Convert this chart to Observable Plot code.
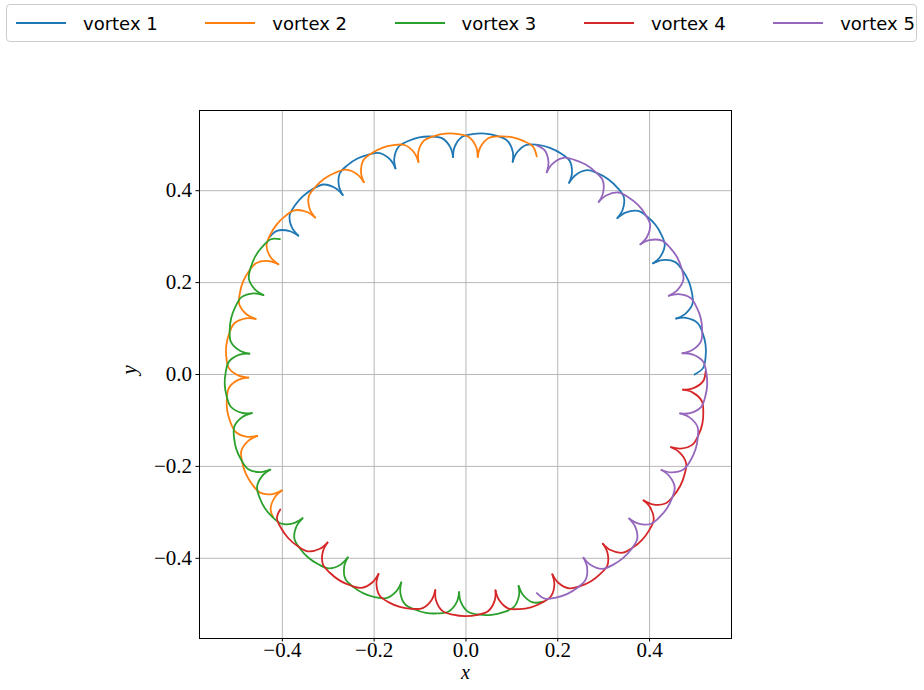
<!DOCTYPE html>
<html>
<head>
<meta charset="utf-8">
<script src="https://cdn.jsdelivr.net/npm/d3@7"></script>
<script src="https://cdn.jsdelivr.net/npm/@observablehq/plot@0.6"></script>
<style>
  html, body { margin: 0; padding: 0; background: #fff; }
  #wrap { position: relative; width: 924px; height: 690px; }
  #legend { position: absolute; left: 6px; top: 4px; width: 911px; height: 38px;
            border: 1px solid #cccccc; border-radius: 4px; background: #fff; box-sizing: border-box;
            font-family: "DejaVu Sans", sans-serif; font-size: 18px; color: #000; }
  .item { position: absolute; top: 0; height: 36px; display: flex; align-items: center; }
  .swatch { width: 50px; height: 2px; margin-right: 17px; }
  #chart { position: absolute; left: 0; top: 50px; }
</style>
</head>
<body>
<div id="wrap">
  <div id="legend"></div>
  <div id="chart"></div>
</div>
<script>
// Series names and colours
const seriesNames = ["vortex 1", "vortex 2", "vortex 3", "vortex 4", "vortex 5"];
const seriesColors = ["#1f77b4", "#ff7f0e", "#2ca02c", "#d62728", "#9467bd"];
const xTicks = [-0.4, -0.2, 0.0, 0.2, 0.4];
const yTicks = [-0.4, -0.2, 0.0, 0.2, 0.4];

// Trajectory points as [angle in degrees, radius]
const vortex1 = [
[0,.498],[1.6,.517],[4.2,.5235],[7.05,.526],[9.9,.5235],[12.5,.517],[14.4,.495],[14.9,.474],
[15.4,.495],[17.3,.517],[19.9,.5235],[22.8,.526],[25.7,.5235],[28.3,.517],[30.2,.495],[30.7,.474],
[31.2,.495],[33.1,.517],[35.7,.5235],[38.3,.526],[40.9,.5235],[43.5,.517],[45.4,.495],[45.9,.474],
[46.4,.495],[48.3,.517],[50.9,.5235],[53.8,.526],[56.7,.5235],[59.3,.517],[61.2,.495],[61.7,.474],
[62.2,.495],[64.1,.517],[66.7,.5235],[69.65,.526],[72.6,.5235],[75.2,.517],[77.1,.495],[77.6,.474],
[78.1,.495],[80.0,.517],[82.6,.5235],[85.5,.526],[88.4,.5235],[91.0,.517],[92.9,.495],[93.4,.474],
[93.9,.495],[95.8,.517],[98.4,.5235],[101.15,.526],[103.9,.5235],[106.5,.517],[108.4,.495],[108.9,.474],
[109.4,.495],[111.3,.517],[113.9,.5235],[116.7,.526],[119.5,.5235],[122.1,.517],[124.0,.495],[124.5,.474],
[125.0,.495],[126.9,.517],[129.5,.5235],[132.45,.526],[135.4,.5235],[138.0,.517],[139.9,.495],[140.4,.474],
[140.9,.495],[142.8,.517],[145.0,.522]
];
const vortex2 = [
[72,.499],[73.6,.517],[76.2,.5235],[79.05,.526],[81.9,.5235],[84.5,.517],[86.4,.495],[86.9,.474],
[87.4,.495],[89.3,.517],[91.9,.5235],[94.75,.526],[97.6,.5235],[100.2,.517],[102.1,.495],[102.6,.474],
[103.1,.495],[105.0,.517],[107.6,.5235],[110.3,.526],[113.0,.5235],[115.6,.517],[117.5,.495],[118.0,.474],
[118.5,.495],[120.4,.517],[123.0,.5235],[125.95,.526],[128.9,.5235],[131.5,.517],[133.4,.495],[133.9,.474],
[134.4,.495],[136.3,.517],[138.9,.5235],[141.75,.526],[144.6,.5235],[147.2,.517],[149.1,.495],[149.6,.474],
[150.1,.495],[152.0,.517],[154.6,.5235],[157.4,.526],[160.2,.5235],[162.8,.517],[164.7,.495],[165.2,.474],
[165.7,.495],[167.6,.517],[170.2,.5235],[173.0,.526],[175.8,.5235],[178.4,.517],[180.3,.495],[180.8,.474],
[181.3,.495],[183.2,.517],[185.8,.5235],[188.6,.526],[191.4,.5235],[194.0,.517],[195.9,.495],[196.4,.474],
[196.9,.495],[198.8,.517],[201.4,.5235],[204.3,.526],[207.2,.5235],[209.8,.517],[211.7,.495],[212.2,.474],
[212.7,.495],[214.6,.517],[216.4,.522]
];
const vortex3 = [
[144,.501],[145.3,.517],[147.9,.5235],[150.75,.526],[153.6,.5235],[156.2,.517],[158.1,.495],[158.6,.474],
[159.1,.495],[161.0,.517],[163.6,.5235],[166.55,.526],[169.5,.5235],[172.1,.517],[174.0,.495],[174.5,.474],
[175.0,.495],[176.9,.517],[179.5,.5235],[182.35,.526],[185.2,.5235],[187.8,.517],[189.7,.495],[190.2,.474],
[190.7,.495],[192.6,.517],[195.2,.5235],[198.05,.526],[200.9,.5235],[203.5,.517],[205.4,.495],[205.9,.474],
[206.4,.495],[208.3,.517],[210.9,.5235],[213.6,.526],[216.3,.5235],[218.9,.517],[220.8,.495],[221.3,.474],
[221.8,.495],[223.7,.517],[226.3,.5235],[229.2,.526],[232.1,.5235],[234.7,.517],[236.6,.495],[237.1,.474],
[237.6,.495],[239.5,.517],[242.1,.5235],[244.9,.526],[247.7,.5235],[250.3,.517],[252.2,.495],[252.7,.474],
[253.2,.495],[255.1,.517],[257.7,.5235],[260.45,.526],[263.2,.5235],[265.8,.517],[267.7,.495],[268.2,.474],
[268.7,.495],[270.6,.517],[273.2,.5235],[276.1,.526],[279.0,.5235],[281.6,.517],[283.5,.495],[284.0,.474],
[284.5,.495],[286.4,.517],[288.8,.522]
];
const vortex4 = [
[216,.5],[217.2,.517],[219.8,.5235],[222.65,.526],[225.5,.5235],[228.1,.517],[230.0,.495],[230.5,.474],
[231.0,.495],[232.9,.517],[235.5,.5235],[238.4,.526],[241.3,.5235],[243.9,.517],[245.8,.495],[246.3,.474],
[246.8,.495],[248.7,.517],[251.3,.5235],[254.1,.526],[256.9,.5235],[259.5,.517],[261.4,.495],[261.9,.474],
[262.4,.495],[264.3,.517],[266.9,.5235],[269.85,.526],[272.8,.5235],[275.4,.517],[277.3,.495],[277.8,.474],
[278.3,.495],[280.2,.517],[282.8,.5235],[285.6,.526],[288.4,.5235],[291.0,.517],[292.9,.495],[293.4,.474],
[293.9,.495],[295.8,.517],[298.4,.5235],[301.2,.526],[304.0,.5235],[306.6,.517],[308.5,.495],[309.0,.474],
[309.5,.495],[311.4,.517],[314.0,.5235],[316.85,.526],[319.7,.5235],[322.3,.517],[324.2,.495],[324.7,.474],
[325.2,.495],[327.1,.517],[329.7,.5235],[332.6,.526],[335.5,.5235],[338.1,.517],[340.0,.495],[340.5,.474],
[341.0,.495],[342.9,.517],[345.5,.5235],[348.25,.526],[351.0,.5235],[353.6,.517],[355.5,.495],[356.0,.474],
[356.5,.495],[358.4,.517],[360.7,.522]
];
const vortex5 = [
[288,.5],[289.4,.517],[292.0,.5235],[294.85,.526],[297.7,.5235],[300.3,.517],[302.2,.495],[302.7,.474],
[303.2,.495],[305.1,.517],[307.7,.5235],[310.65,.526],[313.6,.5235],[316.2,.517],[318.1,.495],[318.6,.474],
[319.1,.495],[321.0,.517],[323.6,.5235],[326.3,.526],[329.0,.5235],[331.6,.517],[333.5,.495],[334.0,.474],
[334.5,.495],[336.4,.517],[339.0,.5235],[341.85,.526],[344.7,.5235],[347.3,.517],[349.2,.495],[349.7,.474],
[350.2,.495],[352.1,.517],[354.7,.5235],[357.65,.526],[360.6,.5235],[363.2,.517],[365.1,.495],[365.6,.474],
[366.1,.495],[368.0,.517],[370.6,.5235],[373.4,.526],[376.2,.5235],[378.8,.517],[380.7,.495],[381.2,.474],
[381.7,.495],[383.6,.517],[386.2,.5235],[388.95,.526],[391.7,.5235],[394.3,.517],[396.2,.495],[396.7,.474],
[397.2,.495],[399.1,.517],[401.7,.5235],[404.55,.526],[407.4,.5235],[410.0,.517],[411.9,.495],[412.4,.474],
[412.9,.495],[414.8,.517],[417.4,.5235],[420.3,.526],[423.2,.5235],[425.8,.517],[427.7,.495],[428.2,.474],
[428.7,.495],[430.6,.517],[432.8,.522]
];
const vortexPoints = [vortex1, vortex2, vortex3, vortex4, vortex5];

// Build table: convert polar readings to x/y, split arcs at cusps
const rows = [];
vortexPoints.forEach((pts, k) => {
  const name = seriesNames[k];
  let seg = 0;
  pts.forEach(([t, r], i) => {
    const a = t * Math.PI / 180;
    const x = r * Math.cos(a), y = r * Math.sin(a);
    rows.push({vortex: name, seg: name + "-" + seg, x, y});
    if (r < 0.48 && i > 0 && i < pts.length - 1) {
      seg++;
      rows.push({vortex: name, seg: name + "-" + seg, x, y});
    }
  });
});

const fmt = d3.format(".1f");
const serif = "'Liberation Serif', 'Times New Roman', serif";

const chart = Plot.plot({
  width: 924,
  height: 640,
  marginLeft: 199,
  marginRight: 193,
  marginTop: 60,
  marginBottom: 52,
  x: {domain: [-0.5805, 0.5785]},
  y: {domain: [-0.5745, 0.5745]},
  color: {domain: seriesNames, range: seriesColors},
  style: {background: "white", overflow: "visible"},
  marks: [
    Plot.gridX(xTicks, {stroke: "#b0b0b0", strokeOpacity: 1, strokeWidth: 0.9}),
    Plot.gridY(yTicks, {stroke: "#b0b0b0", strokeOpacity: 1, strokeWidth: 0.9}),
    Plot.line(rows, {x: "x", y: "y", z: "seg", stroke: "vortex", curve: "catmull-rom", strokeWidth: 1.8}),
    Plot.frame({stroke: "black", strokeWidth: 1}),
    Plot.axisX(xTicks, {tickSize: 3.5, tickPadding: 0, tickFormat: fmt, label: null,
      fontSize: 21, fontFamily: serif, stroke: "black"}),
    Plot.axisY(yTicks, {tickSize: 3.5, tickPadding: 4, tickFormat: fmt, label: null,
      fontSize: 21, fontFamily: serif, stroke: "black"}),
    Plot.text(["x"], {frameAnchor: "bottom", dy: 40.6, text: d => d, fontSize: 20,
      fontFamily: serif, fontStyle: "italic", fill: "black"}),
    Plot.text(["y"], {frameAnchor: "left", dx: -70, text: d => d, fontSize: 21, rotate: -90,
      fontFamily: serif, fontStyle: "italic", fill: "black"})
  ]
});
document.getElementById("chart").appendChild(chart);

// Legend
const legend = document.getElementById("legend");
seriesNames.forEach((name, i) => {
  const item = document.createElement("div");
  item.className = "item";
  item.style.left = (9 + i * 189.3) + "px";
  const sw = document.createElement("span");
  sw.className = "swatch";
  sw.style.background = seriesColors[i];
  const tx = document.createElement("span");
  tx.textContent = name;
  item.appendChild(sw);
  item.appendChild(tx);
  legend.appendChild(item);
});
</script>
</body>
</html>
